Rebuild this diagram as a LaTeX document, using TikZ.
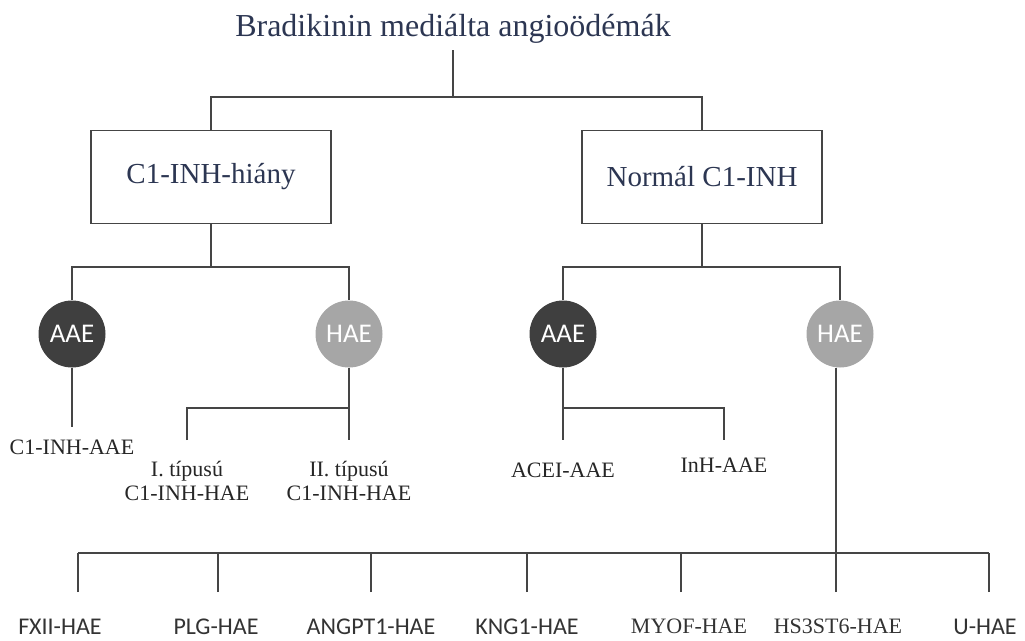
\documentclass[tikz,border=0pt]{standalone}
\usepackage{fontspec}
\setmainfont{Liberation Serif}
\newfontfamily\calfont{Carlito}
\usepackage{tikz}

\definecolor{titleblue}{HTML}{2C3652}
\definecolor{linegray}{HTML}{454545}
\definecolor{aaegray}{HTML}{3F3F3F}
\definecolor{haegray}{HTML}{A6A6A6}

\begin{document}
\begin{tikzpicture}[x=1pt, y=-1pt,
    tree/.style={draw=linegray, line width=1.8pt},
    genetree/.style={draw=linegray, line width=1.3pt},
    hdr/.style={anchor=base, inner ysep=7pt, text=titleblue, font=\fontsize{32}{36}\selectfont},
    groupbox/.style={draw=linegray, line width=1.8pt, minimum width=240pt, minimum height=93pt, text=titleblue, font=\fontsize{29}{32}\selectfont},
    aae/.style={circle, fill=aaegray, minimum size=67pt, inner sep=0pt, text=white, font=\calfont\fontsize{27}{29}\selectfont},
    hae/.style={aae, fill=haegray},
    sublabel/.style={anchor=north, inner xsep=0pt, inner ysep=21pt, align=center, text=black!85, font=\fontsize{22}{24}\selectfont},
    genelabel/.style={anchor=north, inner xsep=0pt, inner ysep=27pt, text=black!80, font=\calfont\fontsize{24}{26}\selectfont},
    serifgene/.style={genelabel, font=\fontsize{22}{24}\selectfont}]
  \useasboundingbox (0,0) rectangle (1025,640);

  \node[hdr] (title) at (453,36) {Bradikinin mediálta angioödémák};
  \node[groupbox] (boxL) at (211,177) {C1-INH-hiány};
  \node[groupbox] (boxR) at (702,177) {Normál C1-INH};

  \node[aae] (cL1) at (72,334) {AAE};
  \node[hae] (cL2) at (349,334) {HAE};
  \node[aae] (cR1) at (563,334) {AAE};
  \node[hae] (cR2) at (840,334) {HAE};

  \node[sublabel, inner ysep=13pt] (l1) at (72,427) {C1-INH-AAE};
  \node[sublabel] (l2) at (187,440) {I. típusú\\C1-INH-HAE};
  \node[sublabel] (l3) at (349,440) {II. típusú\\C1-INH-HAE};
  \node[sublabel, inner ysep=23pt] (l4) at (563,440) {ACEI-AAE};
  \node[sublabel, inner ysep=18pt] (l5) at (724,440) {InH-AAE};

  \node[genelabel] (b1) at (60,592) {FXII-HAE};
  \node[genelabel] (b2) at (216,592) {PLG-HAE};
  \node[genelabel] (b3) at (371,592) {ANGPT1-HAE};
  \node[genelabel] (b4) at (527,592) {KNG1-HAE};
  \node[serifgene] (b5) at (689,592) {MYOF-HAE};
  \node[serifgene] (b6) at (838,592) {HS3ST6-HAE};
  \node[genelabel] (b7) at (985,592) {U-HAE};

  \coordinate (jT) at (453,97);
  \coordinate (jL) at (211,267);
  \coordinate (jR) at (702,267);
  \coordinate (jL2) at (349,408);
  \coordinate (jR1) at (563,408);
  \coordinate (gbar) at (836,553);

  \draw[tree] (title) -- (jT);
  \draw[tree] (boxL) |- (jT) -| (boxR);
  \draw[tree] (boxL) -- (jL);
  \draw[tree] (cL1) |- (jL) -| (cL2);
  \draw[tree] (boxR) -- (jR);
  \draw[tree] (cR1) |- (jR) -| (cR2);

  \draw[tree] (cL1) -- (l1);
  \draw[tree] (cL2) -- (l3);
  \draw[tree] (l2) |- (jL2);
  \draw[tree] (cR1) -- (l4);
  \draw[tree] (jR1) -| (l5);
  \draw[tree] ([xshift=-4pt]cR2.south) -- ([xshift=-4pt]cR2.south |- gbar);

  \draw[genetree] ([xshift=18pt]b1.north |- gbar) -- ([xshift=4pt]b7.north |- gbar);
  \foreach \n/\dx in {b1/18, b2/2, b3/0, b4/0, b5/-8, b6/-2, b7/4}
    \draw[genetree] ([xshift=\dx pt]\n.north) -- ([xshift=\dx pt]\n.north |- gbar);
\end{tikzpicture}
\end{document}
